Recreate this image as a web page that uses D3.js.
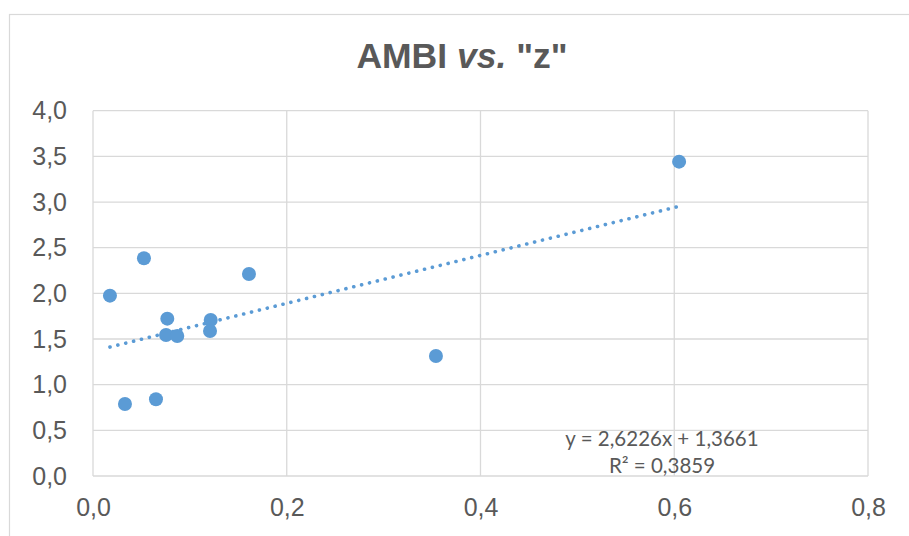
<!DOCTYPE html>
<html>
<head>
<meta charset="utf-8">
<script src="https://cdn.jsdelivr.net/npm/d3@7"></script>
<style>
  body { margin: 0; background: #fff; }
  svg { display: block; }
</style>
</head>
<body>
<div id="chart"></div>
<script>
// data
const zValues = [0.0175, 0.0526, 0.161, 0.0767, 0.0754, 0.087, 0.1215, 0.1208, 0.033, 0.065, 0.605, 0.354];
const ambiValues = [1.975, 2.384, 2.212, 1.723, 1.544, 1.533, 1.709, 1.588, 0.789, 0.840, 3.442, 1.314];
const xTicks = [0, 0.2, 0.4, 0.6, 0.8];
const yTicks = [0, 0.5, 1, 1.5, 2, 2.5, 3, 3.5, 4];
const trendSlope = 2.6226;
const trendIntercept = 1.3661;
const trendR2 = 0.3859;

const W = 909, H = 536;
const margin = { top: 110.7, right: 41, bottom: 60, left: 93 };
const fmt = d3.format('.1f');
const comma = (v) => fmt(v).replace('.', ',');

const svg = d3.select('#chart').append('svg').attr('width', W).attr('height', H);

// chart area border
svg.append('rect')
  .attr('x', 9.5).attr('y', 14.5)
  .attr('width', 920).attr('height', 540)
  .attr('fill', 'none').attr('stroke', '#d9d9d9').attr('stroke-width', 1.2);

const x = d3.scaleLinear().domain([0, 0.8]).range([margin.left, W - margin.right]);
const y = d3.scaleLinear().domain([0, 4]).range([H - margin.bottom, margin.top]);

// gridlines
const grid = svg.append('g').attr('class', 'grid')
  .attr('stroke', '#d9d9d9').attr('stroke-width', 1.3);
grid.selectAll('line.h').data(yTicks).enter().append('line').attr('class', 'h')
  .attr('x1', x(0)).attr('x2', x(0.8))
  .attr('y1', d => y(d)).attr('y2', d => y(d));
grid.selectAll('line.v').data(xTicks).enter().append('line').attr('class', 'v')
  .attr('y1', y(0)).attr('y2', y(4))
  .attr('x1', d => x(d)).attr('x2', d => x(d));

// axes (labels only)
const yAxis = svg.append('g').attr('transform', 'translate(' + (x(0) - 26) + ',0)')
  .call(d3.axisLeft(y).tickValues(yTicks).tickFormat(comma).tickSize(0).tickPadding(0));
const xAxis = svg.append('g').attr('transform', 'translate(0,' + (y(0) + 22) + ')')
  .call(d3.axisBottom(x).tickValues(xTicks).tickFormat(comma).tickSize(0).tickPadding(0));
[yAxis, xAxis].forEach(a => {
  a.select('.domain').remove();
  a.selectAll('text')
    .attr('fill', '#595959')
    .style('font-family', 'Liberation Sans, Arial, sans-serif')
    .style('font-size', '25px');
});
xAxis.selectAll('text').attr('dy', '0.71em');

// trendline
const xMin = d3.min(zValues), xMax = d3.max(zValues);
svg.append('line')
  .attr('x1', x(xMin)).attr('y1', y(trendSlope * xMin + trendIntercept))
  .attr('x2', x(xMax)).attr('y2', y(trendSlope * xMax + trendIntercept))
  .attr('stroke', '#5b9bd5').attr('stroke-width', 3.6)
  .attr('stroke-linecap', 'round').attr('stroke-dasharray', '0.1 8');

// points
svg.append('g').selectAll('circle')
  .data(zValues.map((v, i) => ({ z: v, a: ambiValues[i] })))
  .enter().append('circle')
  .attr('cx', d => x(d.z)).attr('cy', d => y(d.a))
  .attr('r', 7).attr('fill', '#5b9bd5');

// equation label
const eq = svg.append('text')
  .attr('x', 662).attr('y', 446)
  .attr('text-anchor', 'middle').attr('fill', '#595959')
  .style('font-family', 'Lato, Open Sans, sans-serif').style('font-size', '20.5px');
eq.append('tspan').text('y = ' + String(trendSlope).replace('.', ',') + 'x + ' + String(trendIntercept).replace('.', ','));
eq.append('tspan').attr('x', 662).attr('dy', 27).text('R² = ' + String(trendR2).replace('.', ','));

// title
const title = svg.append('text')
  .attr('x', 462).attr('y', 68)
  .attr('text-anchor', 'middle').attr('fill', '#595959')
  .style('font-family', 'Liberation Sans, Arial, sans-serif')
  .style('font-size', '35.5px').style('font-weight', 'bold');
title.append('tspan').text('AMBI ');
title.append('tspan').style('font-style', 'italic').text('vs.');
title.append('tspan').text(' "z"');
</script>
</body>
</html>
